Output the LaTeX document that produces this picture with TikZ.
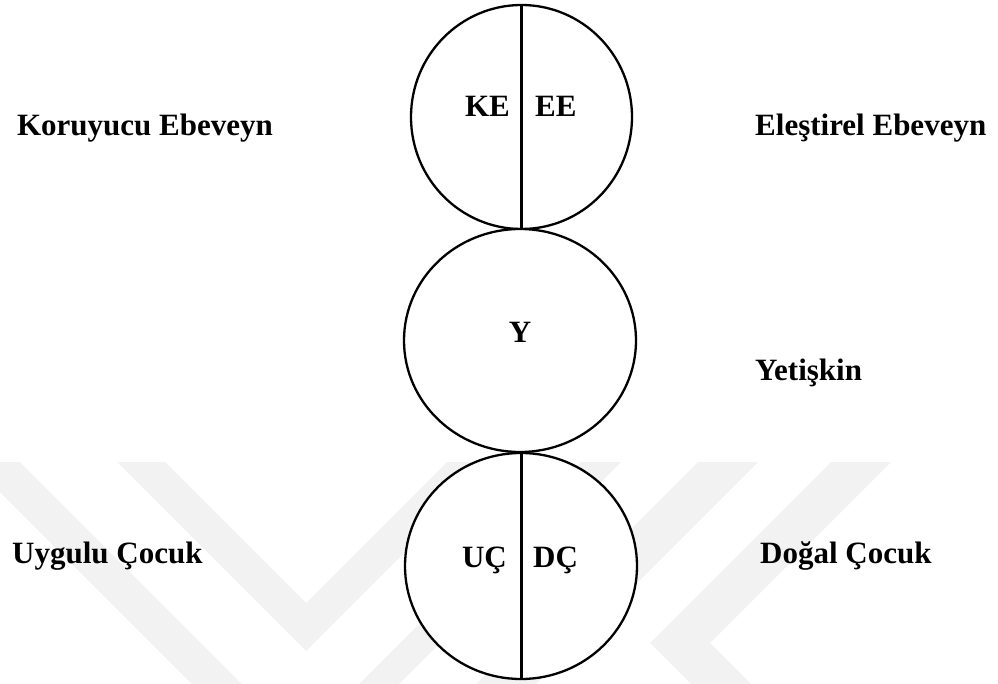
\documentclass[tikz,border=0pt]{standalone}
\usepackage{fontspec}
\setmainfont{Liberation Serif}
\usetikzlibrary{shapes.geometric}
\begin{document}
\begin{tikzpicture}[x=1pt,y=-1pt,
  ego/.style={ellipse,draw=black,line width=2.3pt,fill=white,inner sep=0pt},
  lbl/.style={inner sep=0pt,font=\fontsize{31}{31}\selectfont\bfseries},
  divider/.style={line width=3pt},
  wm/.style={fill=black!5,draw=none}]
\useasboundingbox (0,0) rectangle (998,684);
% faint watermark
\fill[wm] (-30,462) -- (20,462) -- (242,684) -- (192,684) -- cycle;
\fill[wm] (117,462) -- (165,462) -- (306,603) -- (447,462) -- (495,462) -- (306,651) -- cycle;
\fill[wm] (581,462) -- (621,462) -- (399,684) -- (359,684) -- cycle;
\fill[wm] (698,462) -- (758,462) -- (536,684) -- (476,684) -- cycle;
\fill[wm] (831,462) -- (891,462) -- (710,643) -- (751,684) -- (691,684) -- (650,643) -- cycle;
% ego states
\node[ego,minimum width=221pt,minimum height=224pt] (P) at (521.5,117) {};
\node[ego,minimum width=232pt,minimum height=223pt] (A) at (520,340.5) {};
\node[ego,minimum width=232pt,minimum height=226pt] (C) at (521,566) {};
\draw[divider] (P.north) -- (P.south);
\draw[divider] (C.north) -- (C.south);
% inner labels
\node[lbl,anchor=base east] (ke) at (510,117) {KE};
\node[lbl,anchor=base west] (ee) at (535,117) {EE};
\node[lbl,anchor=base] (y) at (520,342) {Y};
\node[lbl,anchor=base east] (uc) at (507,567) {UÇ};
\node[lbl,anchor=base west] (dc) at (533,567) {DÇ};
% outer labels
\node[lbl,anchor=base east] (koru) at (273,136) {Koruyucu Ebeveyn};
\node[lbl,anchor=base west] (eles) at (755,136) {Eleştirel Ebeveyn};
\node[lbl,anchor=base west] (yet) at (755,381) {Yetişkin};
\node[lbl,anchor=base west] (uyg) at (12,563) {Uygulu Çocuk};
\node[lbl,anchor=base west] (dog) at (760,563) {Doğal Çocuk};
\end{tikzpicture}
\end{document}
